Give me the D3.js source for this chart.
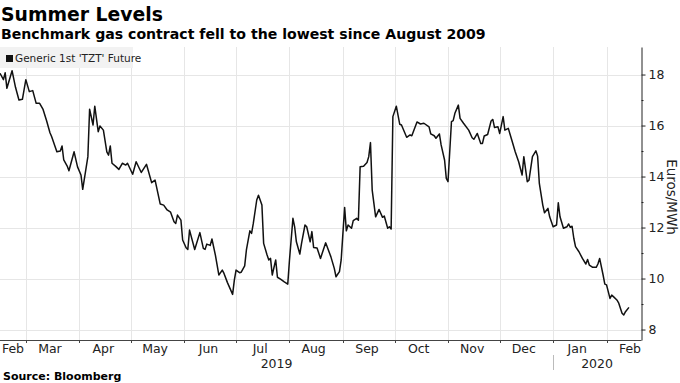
<!DOCTYPE html>
<html>
<head>
<meta charset="utf-8">
<script src="https://cdn.jsdelivr.net/npm/d3@7"></script>
<style>
  html, body { margin: 0; padding: 0; background: #fff; }
  svg { display: block; }
</style>
</head>
<body>
<svg id="chart" width="680" height="383"></svg>
<script>
// ---------- DATA ----------
const titleText = "Summer Levels";
const subtitleText = "Benchmark gas contract fell to the lowest since August 2009";
const sourceText = "Source: Bloomberg";
const seriesName = "Generic 1st 'TZT' Future";
const unitLabel = "Euros/MWh";

const dates = [
"2019-02-14","2019-02-16","2019-02-17","2019-02-18","2019-02-21","2019-02-23","2019-02-25","2019-02-27",
"2019-03-01","2019-03-03","2019-03-05","2019-03-07","2019-03-09","2019-03-11","2019-03-13","2019-03-15",
"2019-03-16","2019-03-18","2019-03-19","2019-03-21","2019-03-22","2019-03-23","2019-03-25","2019-03-26",
"2019-03-29","2019-03-31","2019-04-02","2019-04-03","2019-04-06","2019-04-07","2019-04-09","2019-04-10",
"2019-04-12","2019-04-13","2019-04-15","2019-04-17","2019-04-18","2019-04-19","2019-04-20","2019-04-22",
"2019-04-24","2019-04-26","2019-04-28","2019-04-29","2019-05-02","2019-05-04","2019-05-07","2019-05-10",
"2019-05-13","2019-05-15","2019-05-18","2019-05-20","2019-05-22","2019-05-24","2019-05-26","2019-05-27",
"2019-05-28","2019-05-30","2019-05-31","2019-06-02","2019-06-03","2019-06-04","2019-06-07","2019-06-10",
"2019-06-12","2019-06-13","2019-06-14","2019-06-16","2019-06-17","2019-06-19","2019-06-21","2019-06-23",
"2019-06-24","2019-06-26","2019-06-29","2019-06-30","2019-07-01","2019-07-03","2019-07-04","2019-07-06",
"2019-07-07","2019-07-09","2019-07-10","2019-07-11","2019-07-13","2019-07-14","2019-07-16","2019-07-17",
"2019-07-19","2019-07-20","2019-07-21","2019-07-22","2019-07-24","2019-07-25","2019-07-27","2019-07-29",
"2019-07-31","2019-08-01","2019-08-03","2019-08-04","2019-08-05","2019-08-07","2019-08-08","2019-08-10",
"2019-08-11","2019-08-13","2019-08-14","2019-08-15","2019-08-17","2019-08-19","2019-08-22","2019-08-25",
"2019-08-27","2019-08-28","2019-08-30","2019-08-31","2019-09-02","2019-09-03","2019-09-04","2019-09-06",
"2019-09-07","2019-09-09","2019-09-10","2019-09-11","2019-09-13","2019-09-15","2019-09-16","2019-09-17",
"2019-09-18","2019-09-20","2019-09-22","2019-09-24","2019-09-25","2019-09-27","2019-09-28","2019-09-29",
"2019-09-30","2019-10-02","2019-10-04","2019-10-05","2019-10-08","2019-10-10","2019-10-11","2019-10-14",
"2019-10-16","2019-10-18","2019-10-21","2019-10-22","2019-10-24","2019-10-25","2019-10-27","2019-10-28",
"2019-10-30","2019-10-31","2019-11-01","2019-11-03","2019-11-04","2019-11-05","2019-11-07","2019-11-08",
"2019-11-10","2019-11-13","2019-11-15","2019-11-16","2019-11-18","2019-11-20","2019-11-21","2019-11-22",
"2019-11-24","2019-11-26","2019-11-27","2019-11-28","2019-11-30","2019-12-01","2019-12-03","2019-12-04",
"2019-12-06","2019-12-08","2019-12-10","2019-12-12","2019-12-14","2019-12-15","2019-12-17","2019-12-18",
"2019-12-20","2019-12-22","2019-12-23","2019-12-24","2019-12-26","2019-12-27","2019-12-29","2019-12-30",
"2020-01-01","2020-01-03","2020-01-04","2020-01-05","2020-01-07","2020-01-09","2020-01-10","2020-01-11",
"2020-01-12","2020-01-13","2020-01-14","2020-01-16","2020-01-18","2020-01-20","2020-01-21","2020-01-22",
"2020-01-24","2020-01-26","2020-01-27","2020-01-28","2020-01-30","2020-01-31","2020-02-01","2020-02-03",
"2020-02-04","2020-02-05","2020-02-07","2020-02-08","2020-02-10","2020-02-11","2020-02-12","2020-02-14"
];

const prices = [
18.05,17.8,18.07,17.46,18.15,17.5,17.0,17.03,
17.8,17.33,17.37,16.87,16.87,16.63,16.2,15.72,
15.56,15.17,14.97,15.0,15.2,14.65,14.41,14.23,
14.97,14.38,14.06,13.5,14.78,16.64,16.02,16.76,
15.76,15.98,15.82,14.97,14.84,15.2,14.52,14.41,
14.28,14.52,14.45,14.52,14.09,14.58,14.16,14.48,
13.76,13.86,12.92,12.88,12.69,12.6,12.23,12.16,
12.49,12.29,11.51,11.21,11.14,11.9,11.14,11.8,
11.18,11.14,11.35,11.3,11.55,10.92,10.14,10.33,
10.2,9.84,9.38,9.94,10.33,10.23,10.25,10.5,
11.12,11.87,11.77,12.16,13.08,13.27,12.88,11.38,
10.92,10.73,10.79,10.14,10.73,10.05,9.97,9.87,
9.78,10.73,12.36,12.03,11.44,10.96,11.38,12.1,
12.03,11.44,11.84,11.22,11.2,10.79,11.4,10.86,
10.4,10.07,10.27,10.73,12.79,11.87,12.1,11.97,
12.27,12.36,12.29,14.38,14.4,14.55,14.78,15.33,
13.47,12.42,12.71,12.4,12.45,11.97,12.03,11.94,
16.35,16.76,16.05,16.02,15.54,15.63,15.6,16.14,
16.06,16.09,15.95,15.67,15.6,15.5,15.67,15.24,
14.65,13.93,13.8,16.15,16.19,16.48,16.8,16.28,
16.09,15.82,15.52,15.46,15.69,15.3,15.3,15.59,
15.65,16.18,16.24,15.92,15.95,15.69,16.35,15.82,
15.89,15.43,14.97,14.58,14.06,14.78,13.8,13.86,
14.78,15.01,14.8,13.73,12.88,12.58,12.75,12.42,
12.03,12.1,12.97,12.42,11.97,12.03,12.14,12.01,
12.05,11.58,11.25,11.05,10.79,10.57,10.75,10.53,
10.44,10.44,10.57,10.79,10.14,9.78,9.75,9.22,
9.35,9.29,9.16,9.05,8.64,8.57,8.7,8.87
];

const yMajorTicks = [8, 10, 12, 14, 16, 18];
const yMinorTicks = [9, 11, 13, 15, 17];
const xDomainDates = ["2019-02-14", "2020-02-21"];
const yearLabels = ["2019", "2020"];

// ---------- SETUP ----------
const parse = d3.timeParse("%Y-%m-%d");
const data = dates.map((d, i) => ({ date: parse(d), value: prices[i] }));

const svg = d3.select("#chart");
const plot = { left: 0, right: 641, top: 47, bottom: 340 };
const FONT = "'DejaVu Sans', sans-serif";

const x = d3.scaleTime()
  .domain(xDomainDates.map(parse))
  .range([plot.left, plot.right]);
const y = d3.scaleLinear()
  .domain([7.59, 19.08])
  .range([plot.bottom, plot.top]);

// ---------- GRID ----------
const months = d3.timeMonth.range(d3.timeMonth.ceil(x.domain()[0]), x.domain()[1]);
const grid = svg.append("g").attr("stroke", "#e6e6e6").attr("stroke-width", 1);
grid.selectAll("line.h").data(yMajorTicks).join("line")
  .attr("x1", plot.left).attr("x2", plot.right)
  .attr("y1", d => Math.round(y(d)) + 0.5).attr("y2", d => Math.round(y(d)) + 0.5);
grid.selectAll("line.v").data(months).join("line")
  .attr("x1", d => Math.round(x(d)) + 0.5).attr("x2", d => Math.round(x(d)) + 0.5)
  .attr("y1", plot.top).attr("y2", plot.bottom);

// ---------- LINE ----------
const line = d3.line().x(d => x(d.date)).y(d => y(d.value));
svg.append("path").datum(data)
  .attr("fill", "none").attr("stroke", "#111").attr("stroke-width", 1.5)
  .attr("stroke-linejoin", "round")
  .attr("d", line);

// ---------- RIGHT AXIS ----------
const yAxisG = svg.append("g").attr("transform", `translate(${plot.right + 0.5},0)`);
yAxisG.call(d3.axisRight(y).tickValues(yMajorTicks).tickSize(4).tickSizeOuter(0).tickPadding(3))
  .call(g => g.select(".domain").attr("stroke", "#222"))
  .call(g => g.selectAll(".tick line").attr("stroke", "#222"))
  .call(g => g.selectAll(".tick text").attr("font-family", FONT).attr("font-size", 12.5).attr("fill", "#222"));
yAxisG.append("g").call(d3.axisRight(y).tickValues(yMinorTicks).tickSize(2).tickFormat(""))
  .call(g => g.select(".domain").remove())
  .call(g => g.selectAll(".tick line").attr("stroke", "#222"));

svg.append("text")
  .attr("transform", `translate(667,197) rotate(90)`)
  .attr("text-anchor", "middle")
  .attr("font-family", FONT).attr("font-size", 13.5).attr("fill", "#222")
  .text(unitLabel);

// ---------- BOTTOM AXIS ----------
const xAxisG = svg.append("g");
xAxisG.append("line")
  .attr("x1", plot.left).attr("x2", plot.right + 0.5)
  .attr("y1", plot.bottom + 0.5).attr("y2", plot.bottom + 0.5)
  .attr("stroke", "#444");
xAxisG.selectAll("line.tick").data(months).join("line")
  .attr("x1", d => Math.round(x(d)) + 0.5).attr("x2", d => Math.round(x(d)) + 0.5)
  .attr("y1", plot.bottom).attr("y2", plot.bottom + 3)
  .attr("stroke", "#444");

const allMonths = d3.timeMonth.range(d3.timeMonth.floor(x.domain()[0]), x.domain()[1]);
const fmt = d3.timeFormat("%b");
xAxisG.selectAll("text.m").data(allMonths).join("text")
  .attr("x", d => {
    const mid = x(d3.timeDay.offset(d, 14));
    return Math.max(13, Math.min(plot.right - 11, mid));
  })
  .attr("y", 353)
  .attr("text-anchor", "middle")
  .attr("font-family", FONT).attr("font-size", 12.5).attr("fill", "#222")
  .text(d => fmt(d));

// year labels
const yearStart = d3.timeYear.ceil(x.domain()[0]);
const yearSpans = [[x.domain()[0], yearStart], [yearStart, x.domain()[1]]];
xAxisG.selectAll("text.y").data(yearSpans).join("text")
  .attr("x", d => (x(d[0]) + x(d[1])) / 2)
  .attr("y", 368)
  .attr("text-anchor", "middle")
  .attr("font-family", FONT).attr("font-size", 12.5).attr("fill", "#222")
  .text((d, i) => yearLabels[i]);
xAxisG.append("line")
  .attr("x1", Math.round(x(yearStart)) + 0.5).attr("x2", Math.round(x(yearStart)) + 0.5)
  .attr("y1", 355).attr("y2", 370)
  .attr("stroke", "#bbb");

// ---------- LEGEND ----------
const leg = svg.append("g");
leg.append("rect").attr("x", 0).attr("y", 47).attr("width", 133).attr("height", 21).attr("fill", "#f2f2f2");
leg.append("rect").attr("x", 6).attr("y", 55).attr("width", 7).attr("height", 7).attr("fill", "#111");
leg.append("text").attr("x", 15).attr("y", 62)
  .attr("font-family", FONT).attr("font-size", 10.5).attr("fill", "#222")
  .text(seriesName);

// ---------- TITLES ----------
svg.append("text").attr("x", 1).attr("y", 20.5)
  .attr("font-family", FONT).attr("font-weight", "bold").attr("font-size", 18.8).attr("fill", "#000")
  .text(titleText);
svg.append("text").attr("x", 1).attr("y", 38.5)
  .attr("font-family", FONT).attr("font-weight", "bold").attr("font-size", 14.1).attr("fill", "#000")
  .text(subtitleText);
svg.append("text").attr("x", 3).attr("y", 380)
  .attr("font-family", FONT).attr("font-weight", "bold").attr("font-size", 11).attr("fill", "#000")
  .text(sourceText);
</script>
</body>
</html>
